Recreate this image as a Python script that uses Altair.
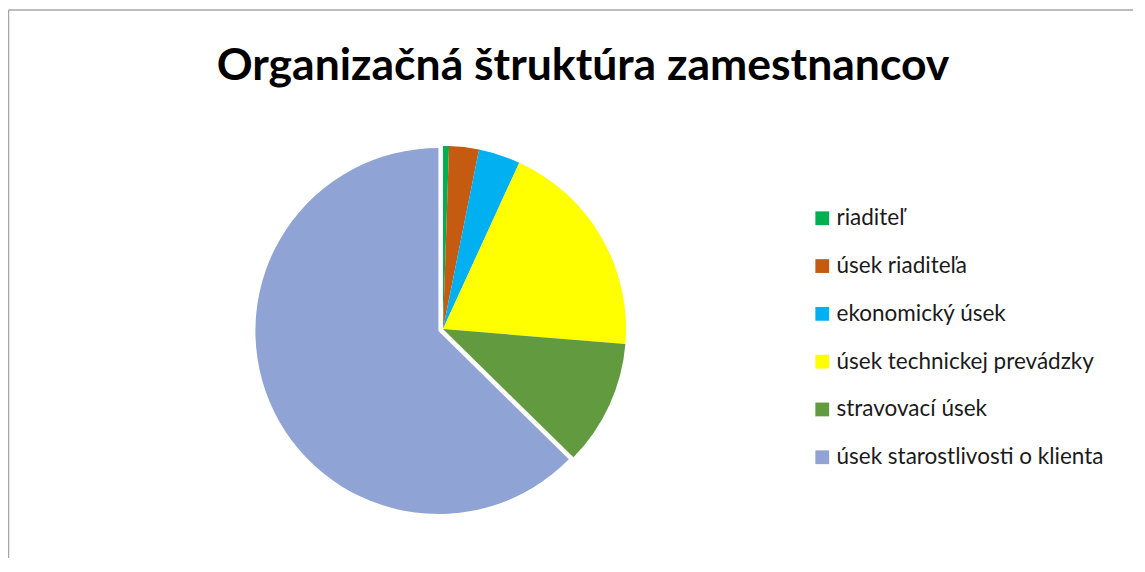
import altair as alt
import pandas as pd

categories = ["riaditeľ", "úsek riaditeľa", "ekonomický úsek",
              "úsek technickej prevádzky", "stravovací úsek",
              "úsek starostlivosti o klienta"]
values = [1, 5, 7, 37, 21, 119]
colors = ["#00B050", "#C55A11", "#00B0F0", "#FFFF00", "#629B3F", "#8FA4D5"]
title_text = "Organizačná štruktúra zamestnancov"
exploded = "úsek starostlivosti o klienta"

df = pd.DataFrame({"kat": categories, "pocet": values, "poradie": list(range(len(categories)))})

W, H = 1125, 550
CX, CY, R = 435, 321, 183
DX, DY = -4.6, 2.0

color = alt.Color(
    "kat:N",
    scale=alt.Scale(domain=categories, range=colors),
    sort=categories,
    legend=alt.Legend(
        title=None, orient="none", legendX=803, legendY=199,
        symbolType="square", symbolSize=190, symbolStrokeWidth=0,
        labelFont="Lato", labelFontSize=22.5, labelColor="#1A1A1A",
        labelOffset=3, rowPadding=24.8, labelLimit=400,
    ),
)

base = alt.Chart(df).encode(
    theta=alt.Theta("pocet:Q", stack=True),
    order=alt.Order("poradie:Q"),
    color=color,
)

main = base.mark_arc(outerRadius=R).encode(
    x=alt.value(CX), y=alt.value(CY),
    opacity=alt.condition(alt.datum.kat == exploded, alt.value(0), alt.value(1)),
)
expl = base.mark_arc(outerRadius=R).encode(
    x=alt.value(CX + DX), y=alt.value(CY + DY),
    opacity=alt.condition(alt.datum.kat == exploded, alt.value(1), alt.value(0)),
)

one = pd.DataFrame({"t": [title_text]})
title = alt.Chart(one).mark_text(
    font="Lato", fontSize=44.5, fontWeight="bold", color="#000000",
    align="center", baseline="alphabetic",
).encode(x=alt.value(575), y=alt.value(72), text="t:N")

border_top = alt.Chart(one).mark_rule(color="#A6A6A6", strokeWidth=1.5).encode(
    x=alt.value(0.5), x2=alt.value(W + 10), y=alt.value(2))
border_left = alt.Chart(one).mark_rule(color="#A6A6A6", strokeWidth=1.5).encode(
    x=alt.value(0.5), y=alt.value(2), y2=alt.value(H + 10))

chart = alt.layer(border_top, border_left, title, main, expl).properties(
    width=W, height=H, padding=0, autosize=alt.AutoSizeParams(type="none"),
).configure_view(stroke=None)

chart.save("out.html", embed_options={"renderer": "svg", "actions": False})
